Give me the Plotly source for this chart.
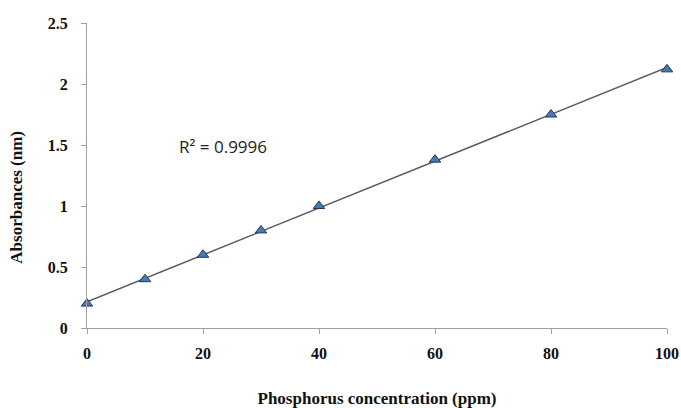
import numpy as np
import plotly.graph_objects as go

concentration = [0, 10, 20, 30, 40, 60, 80, 100]
absorbance = [0.20, 0.40, 0.60, 0.80, 1.00, 1.38, 1.75, 2.12]
x_ticks = [0, 20, 40, 60, 80, 100]
y_ticks = [0, 0.5, 1, 1.5, 2, 2.5]
r2_text = "R\u00b2 = 0.9996"
y_title = "Absorbances (nm)"
x_title = "Phosphorus concentration (ppm)"

slope, intercept = np.polyfit(concentration, absorbance, 1)
fit_x = [min(concentration), max(concentration)]
fit_y = [slope * v + intercept for v in fit_x]

fig = go.Figure()
fig.add_trace(go.Scatter(x=fit_x, y=fit_y, mode="lines",
                         line=dict(color="#5a5a5a", width=1.5),
                         hoverinfo="skip", showlegend=False, cliponaxis=False))
fig.add_trace(go.Scatter(x=concentration, y=absorbance, mode="markers",
                         marker=dict(symbol="triangle-up", size=10, color="#4a78b0",
                                     line=dict(color="#1f3a60", width=1)),
                         showlegend=False, cliponaxis=False))

fig.add_annotation(x=15.5, y=1.49, text=r2_text, showarrow=False,
                   xref="x", yref="y", xanchor="left", yanchor="middle",
                   font=dict(family="Open Sans", size=17, color="#222222"))

title_font = dict(family="Liberation Serif", size=17, color="#111111", weight="bold")
fig.add_annotation(x=-0.121, y=0.43, xref="paper", yref="paper", text=y_title,
                   showarrow=False, textangle=-90, xanchor="center", yanchor="middle",
                   font=title_font)

axis_common = dict(showgrid=False, zeroline=False, showline=True, linecolor="#a0a0a0",
                   linewidth=1.2, ticks="outside", ticklen=5, tickcolor="#a0a0a0",
                   automargin=False)

fig.update_xaxes(range=[0, 100], tickvals=x_ticks, ticktext=[str(v) for v in x_ticks],
                 tickfont=dict(family="Liberation Serif", size=16, color="#111111", weight="bold"),
                 title=dict(text=x_title, standoff=35, font=title_font),
                 ticklabelstandoff=6,
                 **axis_common)
fig.update_yaxes(range=[0, 2.5], tickvals=y_ticks, ticktext=[f"{v:g}" for v in y_ticks],
                 tickfont=dict(family="Liberation Serif", size=16, color="#111111", weight="bold"),
                 ticklabelstandoff=10,
                 **axis_common)

fig.update_layout(width=681, height=408, margin=dict(l=87, r=14, t=23, b=80),
                  plot_bgcolor="white", paper_bgcolor="white")

fig.write_html("out.html", config={"displayModeBar": False},
               post_script="document.body.style.margin='0';document.body.style.overflow='hidden';")
